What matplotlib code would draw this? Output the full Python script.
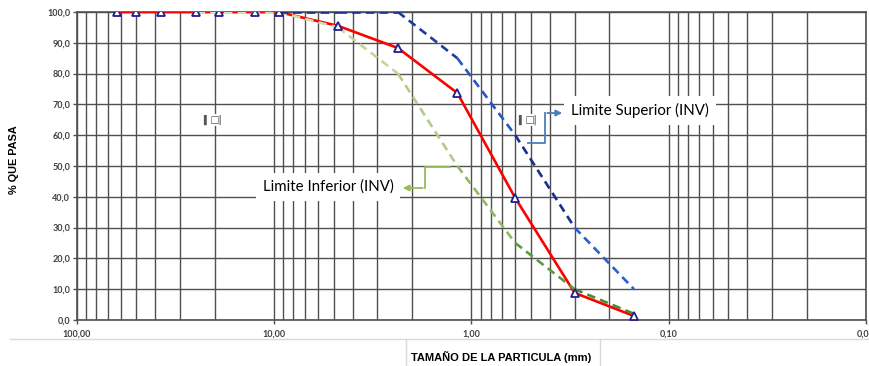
import matplotlib.pyplot as plt
import matplotlib.ticker as mticker
from matplotlib.lines import Line2D

# Sieve sizes (mm) and % passing
tamanos = [63, 50, 37.5, 25, 19, 12.5, 9.5, 4.75, 2.36, 1.18, 0.6, 0.3, 0.15]
pasa = [100, 100, 100, 100, 100, 100, 100, 95.5, 88.3, 73.7, 39.6, 8.8, 1.3]

# Lower limit (INV)
tam_inf = [25, 9.5, 4.75, 2.36, 1.18, 0.6, 0.3, 0.15]
lim_inf = [100, 100, 95, 80, 50, 25, 10, 2]
col_inf = ['#d8e4bc', '#cfdfae', '#c3d69b', '#b2cb88', '#93b86a', '#5c9a3b', '#4b8a2c']

# Upper limit (INV)
tam_sup = [9.5, 4.75, 2.36, 1.18, 0.6, 0.3, 0.15]
lim_sup = [100, 100, 100, 85, 60, 30, 10]
col_sup = ['#1a2f8c', '#1c3394', '#1f3aa0', '#2556c8', '#1a2f8c', '#2a5ed4']

xticks = [100, 10, 1, 0.1, 0.01]
xtick_labels = ['100,00', '10,00', '1,00', '0,10', '0,01']
yticks = list(range(0, 101, 10))
ytick_labels = [f'{v},0' for v in yticks]

fig = plt.figure(figsize=(8.7, 3.66), dpi=100)
ax = fig.add_axes([77 / 870, 1 - 320 / 366, 789 / 870, 308 / 366])

# Grading curve (red), then limits on top
ax.plot(tamanos, pasa, color='#ff0000', linewidth=1.9, zorder=3)

for i in range(len(tam_inf) - 1):
    ax.plot(tam_inf[i:i + 2], lim_inf[i:i + 2], color=col_inf[i], linewidth=1.9,
            linestyle=(0, (3.2, 2)), zorder=4)

for i in range(len(tam_sup) - 1):
    ax.plot(tam_sup[i:i + 2], lim_sup[i:i + 2], color=col_sup[i], linewidth=1.9,
            linestyle=(0, (3.2, 2)), zorder=4)

ax.plot(tamanos, pasa, linestyle='none', marker='^', markersize=6,
        markerfacecolor='white', markeredgecolor='#1f1f8f', markeredgewidth=1.3, zorder=6)

# Axes
ax.set_xscale('log')
ax.set_xlim(100, 0.01)
ax.set_ylim(0, 100)
ax.set_xticks(xticks)
ax.set_xticklabels(xtick_labels)
ax.xaxis.set_minor_locator(mticker.LogLocator(base=10, subs=range(2, 10), numticks=20))
ax.xaxis.set_minor_formatter(mticker.NullFormatter())
ax.set_yticks(yticks)
ax.set_yticklabels(ytick_labels)

ax.grid(True, which='major', axis='both', color='#505050', linewidth=1.0)
ax.grid(True, which='minor', axis='x', color='#505050', linewidth=1.0)
ax.set_axisbelow(True)

ax.tick_params(axis='both', which='major', length=3, width=1, color='#505050',
               labelsize=6.5, labelcolor='#404040', pad=2)
ax.tick_params(axis='x', which='major', pad=4)
ax.tick_params(axis='x', which='minor', length=0)
for lab in ax.get_xticklabels() + ax.get_yticklabels():
    lab.set_fontweight('bold')
    lab.set_family('Lato')
for s in ax.spines.values():
    s.set_color('#505050')
    s.set_linewidth(1.2)

ax.set_ylabel('% QUE PASA', fontsize=7.8, fontweight='bold', family='Liberation Sans')
ax.yaxis.set_label_coords(-0.074, 0.52)
fig.text(501 / 870, 1 - 357 / 366, 'TAMAÑO DE LA PARTICULA (mm)', fontsize=8,
         fontweight='bold', family='Liberation Sans', ha='center', va='center')

# Callouts
ax.text(0.626, 0.679, 'Limite Superior (INV)', transform=ax.transAxes, family='Lato',
        fontsize=10.8, va='center', ha='left', zorder=7,
        bbox=dict(facecolor='white', edgecolor='none', pad=5))
ax.plot([0.5716, 0.5932, 0.5932], [0.5747, 0.5747, 0.672], transform=ax.transAxes,
        color='#4a7ebb', linewidth=1.3, zorder=8)
ax.annotate('', xy=(0.6185, 0.672), xytext=(0.5925, 0.672), xycoords='axes fraction',
            arrowprops=dict(arrowstyle='-|>', color='#4a7ebb', lw=1.3, mutation_scale=9),
            zorder=8)

ax.text(0.318, 0.432, 'Limite Inferior (INV)', transform=ax.transAxes, family='Lato',
        fontsize=10.8, va='center', ha='center', zorder=7,
        bbox=dict(facecolor='white', edgecolor='none', pad=5))
ax.plot([0.4728, 0.4411, 0.4411], [0.4968, 0.4968, 0.4286], transform=ax.transAxes,
        color='#9bbb59', linewidth=1.3, zorder=8)
ax.annotate('', xy=(0.4094, 0.4286), xytext=(0.4418, 0.4286), xycoords='axes fraction',
            arrowprops=dict(arrowstyle='-|>', color='#9bbb59', lw=1.3, mutation_scale=9),
            zorder=8)

# small placeholder icons
for fx in (0.175, 0.574):
    ax.text(fx, 0.649, '▍□▏', transform=ax.transAxes, fontsize=7, color='#555555',
            ha='center', va='center', zorder=7,
            bbox=dict(facecolor='white', edgecolor='none', pad=0.5))

# chart-area frame lines below the plot
fig.add_artist(Line2D([10 / 870, 1], [1 - 339 / 366] * 2, color='#d9d9d9', lw=1))
fig.add_artist(Line2D([406 / 870] * 2, [0, 1 - 339 / 366], color='#d9d9d9', lw=1))
fig.add_artist(Line2D([600 / 870] * 2, [0, 1 - 339 / 366], color='#d9d9d9', lw=1))

fig.savefig('out.png', dpi=100)
plt.close(fig)
